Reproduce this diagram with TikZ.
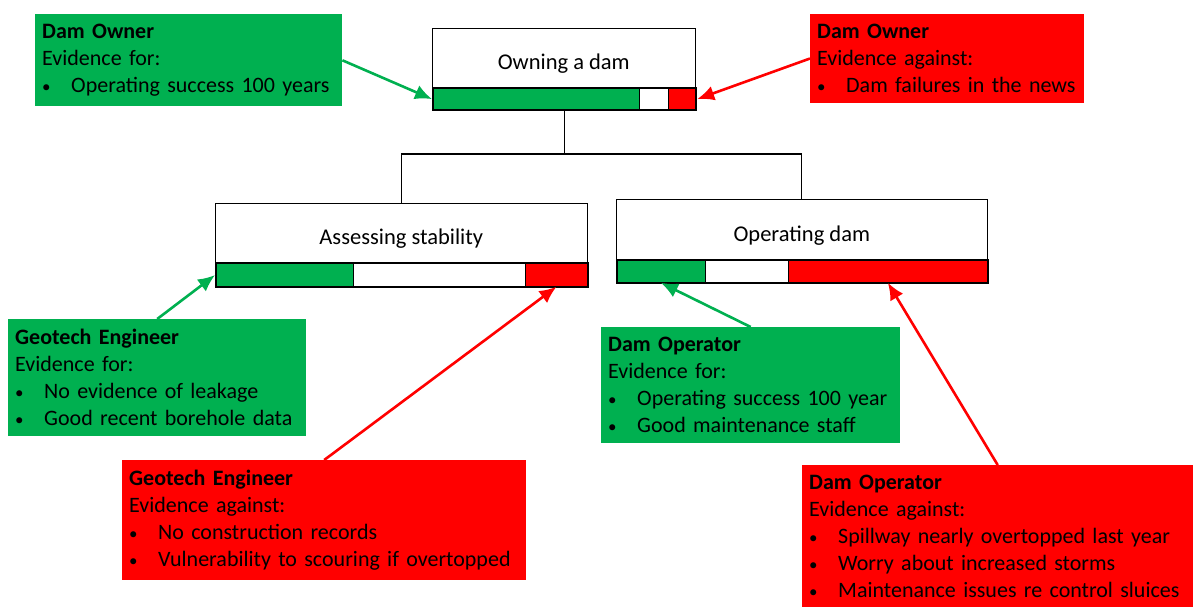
\documentclass[tikz,border=0pt]{standalone}
\usepackage{fontspec}
\setmainfont{Carlito}
\usetikzlibrary{arrows.meta}
\definecolor{forgreen}{HTML}{00B050}
\definecolor{againstred}{HTML}{FF0000}
\newcommand{\bul}[1]{\par\makebox[29pt][l]{\fontsize{17}{17}\selectfont\textbullet}#1}
\tikzset{
  evbox/.style={anchor=north west, inner xsep=7pt, inner ysep=10pt, align=left,
    font=\fontsize{22}{27}\selectfont},
  forbox/.style={evbox, fill=forgreen},
  againstbox/.style={evbox, fill=againstred},
  goalbox/.style={draw, line width=0.6pt, anchor=north west, inner sep=0pt,
    text height=24pt, text depth=0pt, font=\fontsize{22.5}{26}\selectfont},
  seg/.style={draw, line width=0.8pt, anchor=north west, inner sep=0pt},
  barframe/.style={draw, line width=2.2pt, anchor=north west, inner sep=0pt},
  forarrow/.style={draw=forgreen, line width=2.6pt, -{Latex[length=17pt,width=15pt]}},
  againstarrow/.style={draw=againstred, line width=2.6pt, -{Latex[length=17pt,width=15pt]}}
}
\begin{document}
\begin{tikzpicture}[x=1pt,y=-1pt,line cap=butt,line join=miter]
  \useasboundingbox (0,0) rectangle (1197,606);

  % goals
  \node[goalbox, minimum width=263, minimum height=59] (own) at (432,28) {Owning a dam};
  \node[goalbox, minimum width=372, minimum height=59] (assess) at (215,203) {Assessing stability};
  \node[goalbox, minimum width=371, minimum height=60] (op) at (616,199) {Operating dam};

  % confidence bars
  \node[seg, fill=forgreen, minimum width=207, minimum height=22] (owngreen) at (432,87) {};
  \node[seg, fill=white, minimum width=29, minimum height=22] (ownwhite) at (639,87) {};
  \node[seg, fill=againstred, minimum width=27, minimum height=22] (ownred) at (668,87) {};
  \node[barframe, minimum width=263, minimum height=22] (ownbar) at (432,87) {};

  \node[seg, fill=forgreen, minimum width=138, minimum height=24] (assessgreen) at (215,262) {};
  \node[seg, fill=white, minimum width=172, minimum height=24] (assesswhite) at (353,262) {};
  \node[seg, fill=againstred, minimum width=62, minimum height=24] (assessred) at (525,262) {};
  \node[barframe, minimum width=372, minimum height=24] (assessbar) at (215,262) {};

  \node[seg, fill=forgreen, minimum width=89, minimum height=23] (opgreen) at (616,259) {};
  \node[seg, fill=white, minimum width=83, minimum height=23] (opwhite) at (705,259) {};
  \node[seg, fill=againstred, minimum width=199, minimum height=23] (opred) at (788,259) {};
  \node[barframe, minimum width=371, minimum height=23] (opbar) at (616,259) {};

  % tree
  \coordinate (split) at (ownbar.south |- 0,154);
  \draw[line width=1.3pt] (ownbar.south) -- (split) -| (assess.north);
  \draw[line width=1.3pt] (split) -| (op.north);

  % evidence
  \node[forbox, text width=293] (ownfor) at (35,14)
    {\textbf{Dam Owner}\par Evidence for:\bul{Operating success 100 years}};
  \node[againstbox, text width=260] (ownagainst) at (810,14)
    {\textbf{Dam Owner}\par Evidence against:\bul{Dam failures in the news}};
  \node[forbox, text width=284] (geofor) at (8,319)
    {\textbf{Geotech Engineer}\par Evidence for:\bul{No evidence of leakage}\bul{Good recent borehole data}};
  \node[againstbox, text width=390] (geoagainst) at (122,460)
    {\textbf{Geotech Engineer}\par Evidence against:\bul{No construction records}\bul{Vulnerability to scouring if overtopped}};
  \node[forbox, text width=285] (opfor) at (601,327)
    {\textbf{Dam Operator}\par Evidence for:\bul{Operating success 100 year}\bul{Good maintenance staff}};
  \node[againstbox, text width=377] (opagainst) at (802,465)
    {\textbf{Dam Operator}\par Evidence against:\bul{Spillway nearly overtopped last year}\bul{Worry about increased storms}\bul{Maintenance issues re control sluices}};

  % arrows
  \draw[forarrow] (ownfor.east) -- (ownbar.west);
  \draw[againstarrow] (ownagainst.west) -- (ownbar.east);
  \draw[forarrow] (geofor.north) -- (assessbar.west);
  \draw[againstarrow] (geoagainst.north) -- (assessred.south);
  \draw[forarrow] (opfor.north) -- (opgreen.south);
  \draw[againstarrow] (opagainst.north) -- (opred.south);
\end{tikzpicture}
\end{document}
